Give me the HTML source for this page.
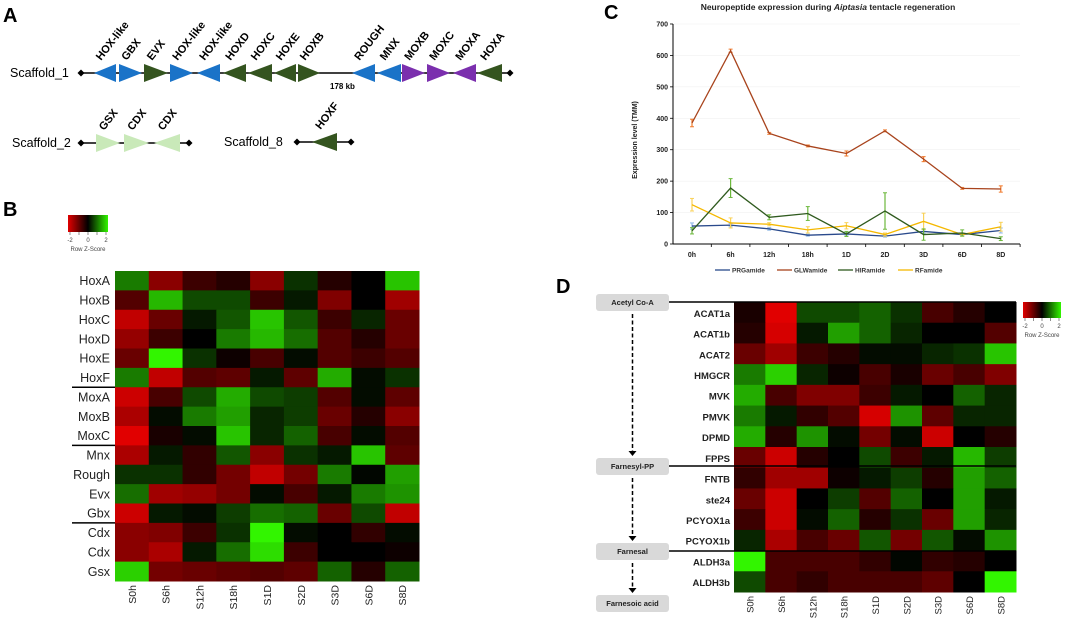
<!DOCTYPE html>
<html><head><meta charset="utf-8"><style>
html,body{margin:0;padding:0;background:#fff;}
svg{display:block;font-family:"Liberation Sans",sans-serif;}
</style></head><body>
<svg id="fig" width="1065" height="620" viewBox="0 0 1065 620" xmlns="http://www.w3.org/2000/svg">
<g font-weight="bold" font-size="20">
<text x="3" y="22">A</text>
<text x="3" y="216">B</text>
<text x="604" y="19">C</text>
<text x="556" y="293">D</text>
</g>
<g id="pa"></g>
<g id="pb"></g>
<g id="pc"></g>
<g id="pd"></g>
</svg>
<script>
// ---- Panel C data ----
const cCategories = ["0h","6h","12h","18h","1D","2D","3D","6D","8D"];
const seriesNames = ["PRGamide","GLWamide","HIRamide","RFamide"];
const prgValues = [57,60,48,28,32,25,40,30,43];
const glwValues = [385,615,352,312,288,360,270,177,175];
const hirValues = [42,178,85,97,32,105,30,35,17];
const rfValues = [125,67,63,45,58,30,72,30,55];
const prgErr = [10,5,4,3,4,3,6,4,8];
const glwErr = [12,5,3,3,8,3,8,3,10];
const hirErr = [10,30,8,22,8,58,18,10,6];
const rfErr = [20,16,5,10,10,5,26,5,14];
const yTicks = [0,100,200,300,400,500,600,700];
// ---- Panel B data ----
const bRows = ["HoxA","HoxB","HoxC","HoxD","HoxE","HoxF","MoxA","MoxB","MoxC","Mnx","Rough","Evx","Gbx","Cdx","Cdx","Gsx"];
const timeCols = ["S0h","S6h","S12h","S18h","S1D","S2D","S3D","S6D","S8D"];
const bValues = [
[1.0,-1.2,-0.5,-0.3,-1.2,0.4,-0.3,0,1.6],
[-0.7,1.5,0.6,0.6,-0.5,0.2,-1.1,0,-1.4],
[-1.7,-0.9,0.2,0.7,1.6,0.7,-0.5,0.3,-0.9],
[-1.3,-0.5,0,1.0,1.5,0.9,-0.7,-0.3,-0.9],
[-0.9,2.0,0.4,-0.1,-0.6,0.1,-0.7,-0.5,-0.7],
[1.0,-1.7,-0.7,-0.8,0.2,-0.8,1.4,0.1,0.4],
[-1.8,-0.6,0.6,1.4,0.6,0.5,-0.7,0.1,-0.8],
[-1.5,0.1,1.0,1.3,0.3,0.5,-0.9,-0.3,-1.2],
[-2,-0.2,0.1,1.6,0.3,0.8,-0.6,0.1,-0.7],
[-1.5,0.2,-0.4,0.7,-1.2,0.4,0.2,1.6,-0.8],
[0.4,0.4,-0.4,-1.0,-1.7,-1.0,1.0,0.05,1.3],
[0.9,-1.4,-1.3,-1.0,0.1,-0.6,0.2,1.0,1.2],
[-1.8,0.2,0.1,0.5,0.9,0.8,-0.9,0.6,-1.7],
[-1.2,-1.1,-0.5,0.4,2.0,0.1,0,-0.4,0.1],
[-1.2,-1.5,0.2,0.9,1.8,-0.5,0,0,-0.1],
[1.7,-1,-0.9,-0.8,-0.7,-0.8,0.8,-0.3,0.8]];
// ---- Panel D data ----
const dRows = ["ACAT1a","ACAT1b","ACAT2","HMGCR","MVK","PMVK","DPMD","FPPS","FNTB","ste24","PCYOX1a","PCYOX1b","ALDH3a","ALDH3b"];
const dValues = [
[-0.2,-2,0.6,0.6,0.8,0.4,-0.6,-0.3,0],
[-0.3,-1.9,0.2,1.3,0.8,0.3,0,0,-0.7],
[-0.9,-1.4,-0.5,-0.3,0.1,0.1,0.3,0.4,1.6],
[1.0,1.7,0.3,-0.1,-0.6,-0.2,-0.9,-0.6,-1.1],
[1.4,-0.6,-1.1,-1.1,-0.5,0.2,0,0.8,0.3],
[1.0,0.2,-0.4,-0.7,-1.9,1.2,-0.8,0.3,0.3],
[1.4,-0.3,1.2,0.1,-1.0,0.1,-1.8,0,-0.3],
[-0.9,-1.8,-0.3,0,0.6,-0.5,0.2,1.5,0.5],
[-0.4,-1.4,-1.4,-0.1,0.2,0.5,-0.3,1.3,0.8],
[-0.9,-1.8,0,0.5,-0.7,0.8,0,1.3,0.2],
[-0.5,-1.8,0.1,0.8,-0.3,0.4,-0.9,1.3,0.3],
[0.3,-1.5,-0.6,-0.9,0.7,-1.0,0.7,0.1,1.2],
[2.0,-0.6,-0.6,-0.6,-0.4,0.05,-0.4,-0.3,0],
[0.6,-0.6,-0.4,-0.6,-0.6,-0.6,-0.8,0,2]];
const pathway = ["Acetyl Co-A","Farnesyl-PP","Farnesal","Farnesoic acid"];

const NS="http://www.w3.org/2000/svg";
function mk(parent,tag,attrs,txt){const e=document.createElementNS(NS,tag);for(const k in attrs)e.setAttribute(k,attrs[k]);if(txt!==undefined)e.textContent=txt;parent.appendChild(e);return e;}
function zcol(z){z=Math.max(-2,Math.min(2,z));if(z<0){const t=-z/2;return `rgb(${Math.round(225*Math.pow(t,0.95))},0,0)`;}const t=z/2;return `rgb(${Math.round(50*t)},${Math.round(245*Math.pow(t,1.0))},0)`;}

// ===== Panel A =====
const pa=document.getElementById('pa');
function scaffold(label,lx,y,x0,x1,name){
  const t=mk(pa,'text',{x:lx,y:y+4,'font-size':12.5},label);
  
  const l=mk(pa,'line',{x1:x0,y1:y,x2:x1,y2:y,stroke:'#000','stroke-width':1.5});
  
  [x0,x1].forEach(x=>{const d=mk(pa,'path',{d:`M${x-3.5} ${y}L${x} ${y-3.5}L${x+3.5} ${y}L${x} ${y+3.5}Z`,fill:'#000'});});
}
scaffold("Scaffold_1",10,73,81,510,'scaffold-1');
scaffold("Scaffold_2",12,143,81,189,'scaffold-2');
scaffold("Scaffold_8",224,142,297,351,'scaffold-8');
const BL='#1a73c8',GR='#34541f',PU='#7b2fae',LG='#c9e9b9';
const genes=[["HOX-like",94,116,'L',BL,73],["GBX",119,142,'R',BL,73],["EVX",144,168,'R',GR,73],["HOX-like",170,193,'R',BL,73],["HOX-like",197,220,'L',BL,73],["HOXD",223,246,'L',GR,73],["HOXC",248,272,'L',GR,73],["HOXE",274,296,'L',GR,73],["HOXB",298,320,'R',GR,73],["ROUGH",352,375,'L',BL,73],["MNX",377,401,'L',BL,73],["MOXB",402,425,'R',PU,73],["MOXC",427,450,'R',PU,73],["MOXA",453,476,'L',PU,73],["HOXA",477,502,'L',GR,73],["GSX",96,120,'R',LG,143],["CDX",124,149,'R',LG,143],["CDX",154,180,'L',LG,143],["HOXF",312,337,'L',GR,142]];
genes.forEach(g=>{const [n,a,b,dir,c,y]=g;const h=9;
  const p=dir==='R'?`M${a} ${y-h}L${b} ${y}L${a} ${y+h}Z`:`M${b} ${y-h}L${a} ${y}L${b} ${y+h}Z`;
  const e=mk(pa,'path',{d:p,fill:c});
  const cx=(a+b)/2;const t=mk(pa,'text',{x:cx-4,y:y-12,'font-size':11,'font-weight':'bold',transform:`rotate(-52 ${cx-4} ${y-12})`},n);
  });
{const t=mk(pa,'text',{x:330,y:89,'font-size':8,'font-weight':'bold'},"178 kb");}

// ===== Heatmap helper =====
function heatmap(g,rows,vals,x0,y0,w,h,labelX,labelSize,bold,colSize,prefix){
  const cw=w/timeCols.length, rh=h/rows.length;
  vals.forEach((r,i)=>r.forEach((v,j)=>{const c=mk(g,'rect',{x:x0+j*cw,y:y0+i*rh,width:cw+0.5,height:rh+0.5,fill:zcol(v)});
    }));
  rows.forEach((n,i)=>{const t=mk(g,'text',{x:labelX,y:y0+(i+0.5)*rh+4.5,'font-size':labelSize,'text-anchor':'end','font-weight':bold?'bold':'normal',fill:'#222'},n);
    });
  timeCols.forEach((n,j)=>{const x=x0+(j+0.5)*cw+4,y=y0+h+4;const t=mk(g,'text',{x:x,y:y,'font-size':colSize,'text-anchor':'end',transform:`rotate(-90 ${x} ${y})`,fill:'#222'},n);
    });
  return {cw,rh};
}
function legend(g,x,y,w,h,prefix){
  const id=prefix+'grad';const defs=mk(g,'defs',{});const lg=mk(defs,'linearGradient',{id:id});
  mk(lg,'stop',{offset:'0','stop-color':'rgb(225,0,0)'});mk(lg,'stop',{offset:'0.5','stop-color':'#000'});mk(lg,'stop',{offset:'1','stop-color':'rgb(50,245,0)'});
  const r=mk(g,'rect',{x:x,y:y,width:w,height:h,fill:`url(#${id})`});
  for(let k=0;k<5;k++)mk(g,'line',{x1:x+2+k*(w-4)/4,y1:y+h,x2:x+2+k*(w-4)/4,y2:y+h+3,stroke:'#444','stroke-width':0.6});
  [["-2",0],["0",2],["2",4]].forEach(([s,k])=>{const t=mk(g,'text',{x:x+2+k*(w-4)/4,y:y+h+10,'font-size':6,'text-anchor':'middle',fill:'#444'},s);});
  const t=mk(g,'text',{x:x+w/2,y:y+h+19,'font-size':6,'text-anchor':'middle',fill:'#444'},"Row Z-Score");
}

// ===== Panel B =====
const pb=document.getElementById('pb');
legend(pb,68,215,40,17,'b');
const bh=heatmap(pb,bRows,bValues,115,271,304,310,110,12.5,false,10.5,'b');
[6,9,13].forEach(k=>{const l=mk(pb,'line',{x1:72,y1:271+k*bh.rh,x2:115,y2:271+k*bh.rh,stroke:'#000','stroke-width':1.5});});

// ===== Panel D =====
const pd=document.getElementById('pd');
legend(pd,1023,302,38,16,'d');
const dh=heatmap(pd,dRows,dValues,734,302,282,290,730,9.5,true,9.5,'d');
const boxY=[302,466,551,603];
boxY.forEach((y,i)=>{const r=mk(pd,'rect',{x:596,y:y-8,width:73,height:17,rx:3,fill:'#d9d9d9'});
  const t=mk(pd,'text',{x:632.5,y:y+3,'font-size':7.5,'font-weight':'bold','text-anchor':'middle',fill:'#222'},pathway[i]);
  if(i<3){const l=mk(pd,'line',{x1:669,y1:y,x2:1016,y2:y,stroke:'#000','stroke-width':1.5});
    const a=mk(pd,'line',{x1:632.5,y1:y+12,x2:632.5,y2:boxY[i+1]-14,stroke:'#000','stroke-width':1.5,'stroke-dasharray':'4,2.5'});
    const h=mk(pd,'path',{d:`M${628.5} ${boxY[i+1]-15}L${636.5} ${boxY[i+1]-15}L632.5 ${boxY[i+1]-10}Z`,fill:'#000'});}
});

// ===== Panel C =====
const pc=document.getElementById('pc');
const X0=692,DX=38.6,Y0=244,YS=31.43/100;
const xs=i=>X0+i*DX, ys=v=>Y0-v*YS;
{const t=mk(pc,'text',{x:828,y:10,'font-size':8.5,'font-weight':'bold','text-anchor':'middle',fill:'#222'});
 t.innerHTML='Neuropeptide expression during <tspan font-style="italic">Aiptasia</tspan> tentacle regeneration';}
yTicks.forEach(v=>{if(v>0){const gl=mk(pc,'line',{x1:673,y1:ys(v),x2:1020,y2:ys(v),stroke:'#f0f0f0','stroke-width':0.6});}
  mk(pc,'line',{x1:670,y1:ys(v),x2:673,y2:ys(v),stroke:'#000','stroke-width':0.8});
  const t=mk(pc,'text',{x:668,y:ys(v)+2.5,'font-size':7,'font-weight':'bold','text-anchor':'end',fill:'#222'},v);});
{const a=mk(pc,'line',{x1:673,y1:ys(700),x2:673,y2:Y0,stroke:'#000','stroke-width':1});
 const b=mk(pc,'line',{x1:673,y1:Y0,x2:1020,y2:Y0,stroke:'#000','stroke-width':1});}
cCategories.forEach((c,i)=>{mk(pc,'line',{x1:xs(i)+DX/2,y1:Y0,x2:xs(i)+DX/2,y2:Y0+3,stroke:'#000','stroke-width':0.8});
  const t=mk(pc,'text',{x:xs(i),y:Y0+13,'font-size':7,'font-weight':'bold','text-anchor':'middle',fill:'#222'},c);});
{const t=mk(pc,'text',{x:637,y:140,'font-size':7,'font-weight':'bold','text-anchor':'middle',transform:'rotate(-90 637 140)',fill:'#222'},"Expression level (TMM)");}
const sVals=[prgValues,glwValues,hirValues,rfValues], sErr=[prgErr,glwErr,hirErr,rfErr];
const lineCol=['#2a4a8c','#a8431c','#2f5a1e','#f5b800'], errCol=['#8fb8e6','#f07a2c','#6cb83c','#f9d25a'];
[0,3,2,1].forEach(s=>{
  sVals[s].forEach((v,i)=>{const e=sErr[s][i];const l=mk(pc,'line',{x1:xs(i),y1:ys(v+e),x2:xs(i),y2:ys(Math.max(0,v-e)),stroke:errCol[s],'stroke-width':1.2});
    [v+e,Math.max(0,v-e)].forEach(q=>mk(pc,'line',{x1:xs(i)-2,y1:ys(q),x2:xs(i)+2,y2:ys(q),stroke:errCol[s],'stroke-width':1}));});
  const p=mk(pc,'polyline',{points:sVals[s].map((v,i)=>xs(i)+','+ys(v)).join(' '),fill:'none',stroke:lineCol[s],'stroke-width':1.3});
  
});
const legX=[715,777,838,898];
seriesNames.forEach((n,s)=>{mk(pc,'line',{x1:legX[s],y1:270,x2:legX[s]+15,y2:270,stroke:lineCol[s],'stroke-width':1.3});
  const t=mk(pc,'text',{x:legX[s]+17,y:272.5,'font-size':6.5,'font-weight':'bold',fill:'#333'},n);});
</script>
</body></html>
